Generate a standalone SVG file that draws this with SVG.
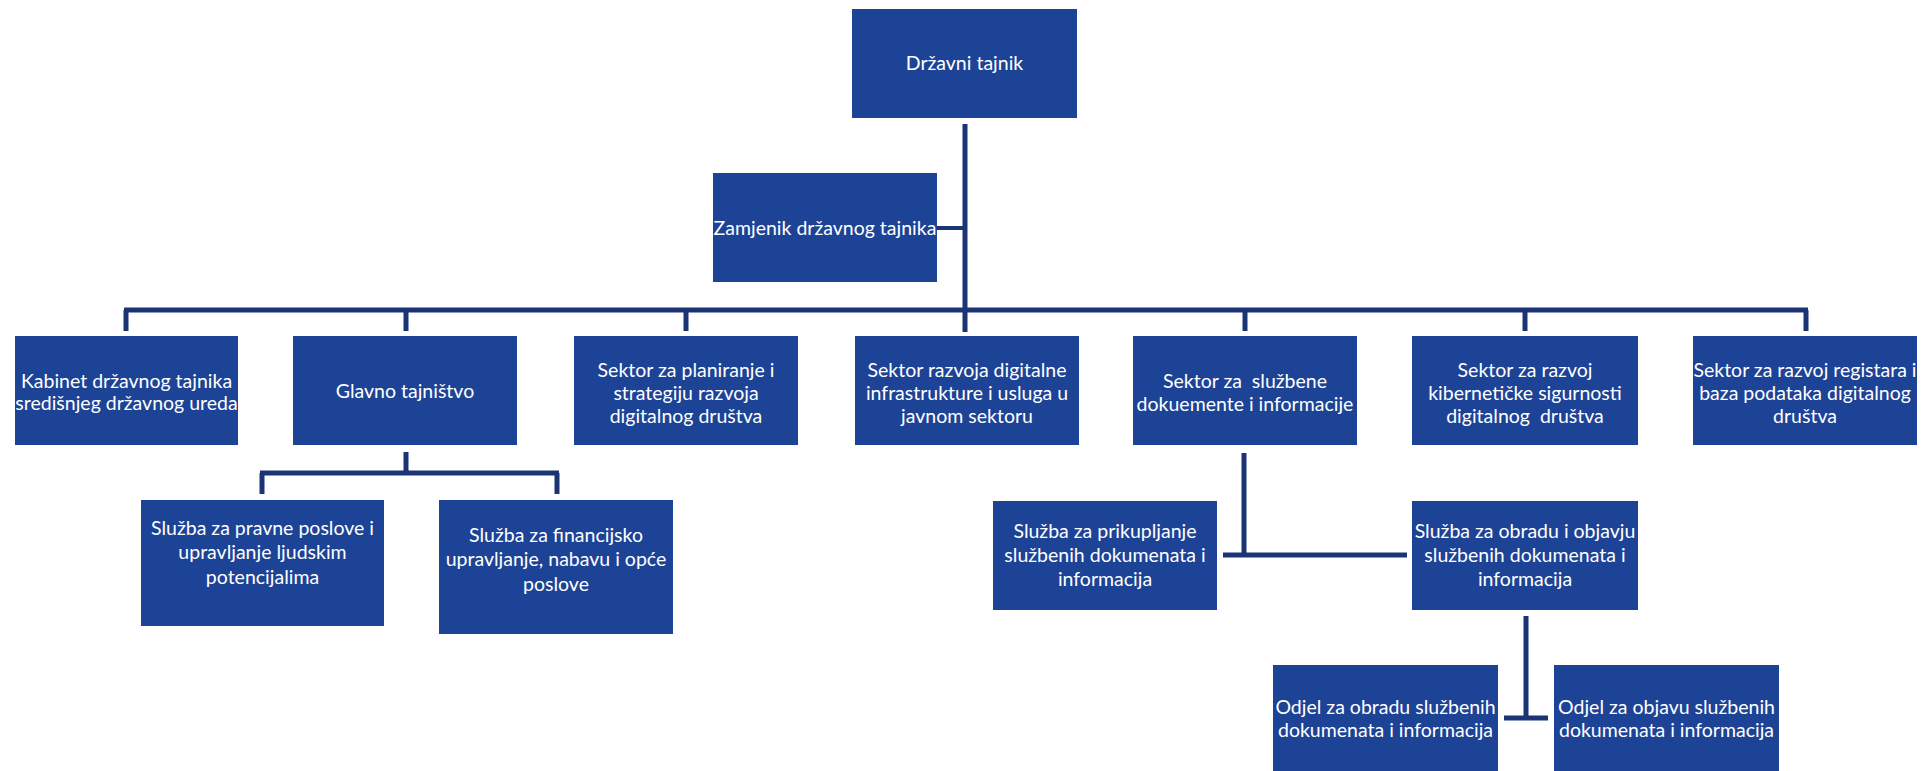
<svg xmlns="http://www.w3.org/2000/svg" width="1930" height="771" viewBox="0 0 1930 771">
<style>
.box{fill:#1D4396}
.t{fill:#ffffff;font-family:Lato,"Open Sans","Liberation Sans",sans-serif;font-size:19.5px;text-anchor:middle}
.ln{stroke:#1B3473;stroke-width:5;fill:none;stroke-linecap:butt}
</style>
<rect width="1930" height="771" fill="#ffffff"/>
<g id="connectors">
<line class="ln" x1="965" y1="124" x2="965" y2="332"/>
<line class="ln" x1="937" y1="228" x2="965" y2="228" style="stroke-width:4"/>
<line class="ln" x1="124" y1="310" x2="1808" y2="310"/>
<line class="ln" x1="126" y1="310" x2="126" y2="331"/>
<line class="ln" x1="406" y1="310" x2="406" y2="331"/>
<line class="ln" x1="686" y1="310" x2="686" y2="331"/>
<line class="ln" x1="1245" y1="310" x2="1245" y2="331"/>
<line class="ln" x1="1525" y1="310" x2="1525" y2="331"/>
<line class="ln" x1="1806" y1="310" x2="1806" y2="331"/>
<line class="ln" x1="406" y1="452" x2="406" y2="473"/>
<line class="ln" x1="260" y1="473" x2="559" y2="473"/>
<line class="ln" x1="262" y1="473" x2="262" y2="494"/>
<line class="ln" x1="557" y1="473" x2="557" y2="494"/>
<line class="ln" x1="1244" y1="453" x2="1244" y2="555"/>
<line class="ln" x1="1223" y1="555" x2="1407" y2="555"/>
<line class="ln" x1="1526" y1="616" x2="1526" y2="718"/>
<line class="ln" x1="1504" y1="718" x2="1548" y2="718"/>
</g>
<g id="n-drzavni-tajnik">
<svg x="852" y="9" width="225" height="109"><rect class="box" width="100%" height="100%"/>
<text class="t" x="112.5" y="61">Državni tajnik</text></svg>
</g>
<g id="n-zamjenik">
<svg x="713" y="173" width="224" height="109"><rect class="box" width="100%" height="100%"/>
<text class="t" x="112" y="62">Zamjenik državnog tajnika</text></svg>
</g>
<g id="n-kabinet">
<svg x="15" y="336" width="223" height="109"><rect class="box" width="100%" height="100%"/>
<text class="t"><tspan x="111.5" y="52">Kabinet državnog tajnika</tspan><tspan x="111.5" y="74">središnjeg državnog ureda</tspan></text></svg>
</g>
<g id="n-glavno">
<svg x="293" y="336" width="224" height="109"><rect class="box" width="100%" height="100%"/>
<text class="t" x="112" y="62">Glavno tajništvo</text></svg>
</g>
<g id="n-planiranje">
<svg x="574" y="336" width="224" height="109"><rect class="box" width="100%" height="100%"/>
<text class="t"><tspan x="112" y="41">Sektor za planiranje i</tspan><tspan x="112" y="64">strategiju razvoja</tspan><tspan x="112" y="87">digitalnog društva</tspan></text></svg>
</g>
<g id="n-razvoja">
<svg x="855" y="336" width="224" height="109"><rect class="box" width="100%" height="100%"/>
<text class="t"><tspan x="112" y="41">Sektor razvoja digitalne</tspan><tspan x="112" y="64">infrastrukture i usluga u</tspan><tspan x="112" y="87">javnom sektoru</tspan></text></svg>
</g>
<g id="n-sluzbene">
<svg x="1133" y="336" width="224" height="109"><rect class="box" width="100%" height="100%"/>
<text class="t" xml:space="preserve" style="white-space:pre"><tspan x="112" y="52">Sektor za  službene</tspan><tspan x="112" y="75">dokuemente i informacije</tspan></text></svg>
</g>
<g id="n-kibernet">
<svg x="1412" y="336" width="226" height="109"><rect class="box" width="100%" height="100%"/>
<text class="t" xml:space="preserve" style="white-space:pre"><tspan x="113" y="41">Sektor za razvoj</tspan><tspan x="113" y="64">kibernetičke sigurnosti</tspan><tspan x="113" y="87">digitalnog  društva</tspan></text></svg>
</g>
<g id="n-registara">
<svg x="1693" y="336" width="224" height="109"><rect class="box" width="100%" height="100%"/>
<text class="t"><tspan x="112" y="41">Sektor za razvoj registara i</tspan><tspan x="112" y="64">baza podataka digitalnog</tspan><tspan x="112" y="87">društva</tspan></text></svg>
</g>
<g id="n-pravne">
<svg x="141" y="500" width="243" height="126"><rect class="box" width="100%" height="100%"/>
<text class="t"><tspan x="121.5" y="35">Služba za pravne poslove i</tspan><tspan x="121.5" y="59">upravljanje ljudskim</tspan><tspan x="121.5" y="84">potencijalima</tspan></text></svg>
</g>
<g id="n-financijsko">
<svg x="439" y="500" width="234" height="134"><rect class="box" width="100%" height="100%"/>
<text class="t"><tspan x="117" y="42">Služba za financijsko</tspan><tspan x="117" y="66">upravljanje, nabavu i opće</tspan><tspan x="117" y="91">poslove</tspan></text></svg>
</g>
<g id="n-prikupljanje">
<svg x="993" y="501" width="224" height="109"><rect class="box" width="100%" height="100%"/>
<text class="t"><tspan x="112" y="37">Služba za prikupljanje</tspan><tspan x="112" y="61">službenih dokumenata i</tspan><tspan x="112" y="85">informacija</tspan></text></svg>
</g>
<g id="n-obradu-objavju">
<svg x="1412" y="501" width="226" height="109"><rect class="box" width="100%" height="100%"/>
<text class="t"><tspan x="113" y="37">Služba za obradu i objavju</tspan><tspan x="113" y="61">službenih dokumenata i</tspan><tspan x="113" y="85">informacija</tspan></text></svg>
</g>
<g id="n-odjel-obradu">
<svg x="1273" y="665" width="225" height="110"><rect class="box" width="100%" height="100%"/>
<text class="t"><tspan x="112.5" y="49">Odjel za obradu službenih</tspan><tspan x="112.5" y="72">dokumenata i informacija</tspan></text></svg>
</g>
<g id="n-odjel-objavu">
<svg x="1554" y="665" width="225" height="110"><rect class="box" width="100%" height="100%"/>
<text class="t"><tspan x="112.5" y="49">Odjel za objavu službenih</tspan><tspan x="112.5" y="72">dokumenata i informacija</tspan></text></svg>
</g>
</svg>
